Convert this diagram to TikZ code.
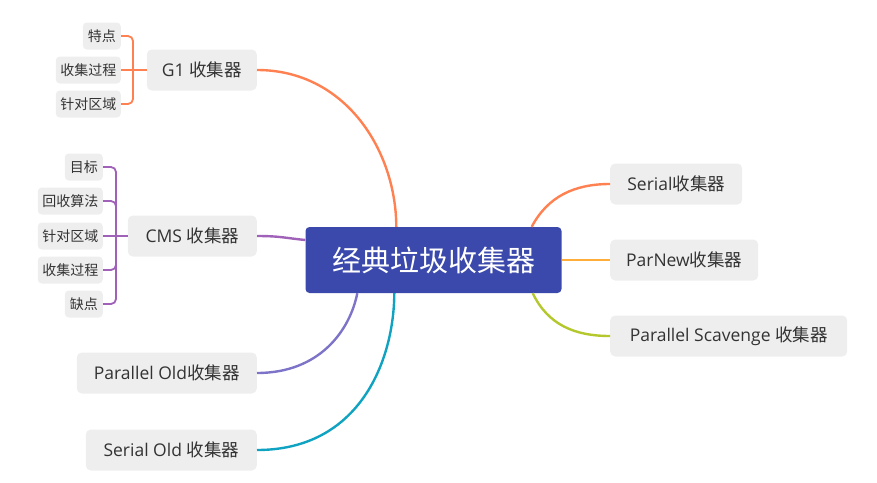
\documentclass[tikz,border=0pt]{standalone}
\usepackage{fontspec}
\setmainfont{Noto Sans CJK SC}
\newfontfamily\lat{Open Sans}
\definecolor{rootblue}{HTML}{3A49AB}
\definecolor{boxgray}{HTML}{EEEEEE}
\definecolor{textgray}{HTML}{333333}
\definecolor{coral}{HTML}{FF8152}
\definecolor{cmspurple}{HTML}{A061B8}
\definecolor{oldblue}{HTML}{7D74C9}
\definecolor{teal}{HTML}{10A3C1}
\definecolor{newyellow}{HTML}{FFAE3A}
\definecolor{limegreen}{HTML}{B4C82E}
\begin{document}
\begin{tikzpicture}[x=1pt, y=-1pt,
  root/.style={fill=rootblue, text=white, rounded corners=4pt, minimum width=256pt,
    minimum height=66pt, inner sep=0pt, font=\fontsize{29}{31}\selectfont},
  branch/.style={fill=boxgray, text=textgray, rounded corners=5pt, minimum height=41pt,
    inner sep=0pt, font=\fontsize{17.5}{19}\selectfont},
  leaf/.style={fill=boxgray, text=textgray, rounded corners=4pt, minimum height=27pt,
    inner sep=0pt, font=\fontsize{14}{16}\selectfont},
  link/.style={line width=2.4pt},
  brace/.style={line width=1.8pt, rounded corners=5pt}]
\useasboundingbox (0,0) rectangle (877,482);
% centre
\node[root] (P_0_0) at (433.5,260) {经典垃圾收集器};
% left branches
\node[branch, minimum width=110pt, anchor=east] (P_1_0) at (257,70) {{\lat G1 }收集器};
\node[branch, minimum width=129pt, anchor=east] (P_1_1) at (257,236) {{\lat CMS }收集器};
\node[branch, minimum width=180pt, anchor=east] (P_1_2) at (257,373) {{\lat Parallel Old}收集器};
\node[branch, minimum width=171pt, anchor=east] (P_1_3) at (257,450) {{\lat Serial Old }收集器};
% right branches
\node[branch, minimum width=132pt, anchor=west] (P_1_4) at (610,184) {{\lat Serial}收集器};
\node[branch, minimum width=148pt, anchor=west] (P_1_5) at (610,260) {{\lat ParNew}收集器};
\node[branch, minimum width=237pt, anchor=west] (P_1_6) at (610,336) {{\lat Parallel Scavenge }收集器};
% G1 leaves
\node[leaf, minimum width=38pt, anchor=east] (P_2_0) at (121,36) {特点};
\node[leaf, minimum width=65pt, anchor=east] (P_2_1) at (121,70) {收集过程};
\node[leaf, minimum width=65pt, anchor=east] (P_2_2) at (121,104) {针对区域};
\coordinate (B_0) at (133,70);
\draw[brace, coral] (P_2_0.east) -| (B_0);
\draw[brace, coral] (P_2_2.east) -| (B_0);
\draw[brace, coral] (P_2_1.east) -- (P_1_0.west);
% CMS leaves
\node[leaf, minimum width=38pt, anchor=east] (P_2_3) at (103,167) {目标};
\node[leaf, minimum width=65pt, anchor=east] (P_2_4) at (103,201) {回收算法};
\node[leaf, minimum width=65pt, anchor=east] (P_2_5) at (103,236) {针对区域};
\node[leaf, minimum width=65pt, anchor=east] (P_2_6) at (103,270) {收集过程};
\node[leaf, minimum width=38pt, anchor=east] (P_2_7) at (103,304) {缺点};
\coordinate (B_1) at (116,236);
\draw[brace, cmspurple] (P_2_3.east) -| (B_1);
\draw[brace, cmspurple] (P_2_4.east) -| (B_1);
\draw[brace, cmspurple] (P_2_6.east) -| (B_1);
\draw[brace, cmspurple] (P_2_7.east) -| (B_1);
\draw[brace, cmspurple] (P_2_5.east) -- (P_1_1.west);
% links to the centre
\draw[link, coral] (P_1_0.east) .. controls (345,70) and (396,150) .. ([xshift=91pt]P_0_0.north west);
\draw[link, cmspurple] (P_1_1.east) .. controls (280,236) and (285,238) .. ([yshift=20pt]P_0_0.west);
\draw[link, oldblue] (P_1_2.east) .. controls (320,373) and (350,330) .. ([xshift=52pt]P_0_0.south west);
\draw[link, teal] (P_1_3.east) .. controls (360,450) and (394,360) .. ([xshift=89pt]P_0_0.south west);
\draw[link, coral] ([xshift=-30pt]P_0_0.north east) .. controls (548,196) and (575,184) .. (P_1_4.west);
\draw[link, newyellow] (P_0_0.east) -- (P_1_5.west);
\draw[link, limegreen] ([xshift=-29pt]P_0_0.south east) .. controls (548,325) and (575,336) .. (P_1_6.west);
\end{tikzpicture}
\end{document}
